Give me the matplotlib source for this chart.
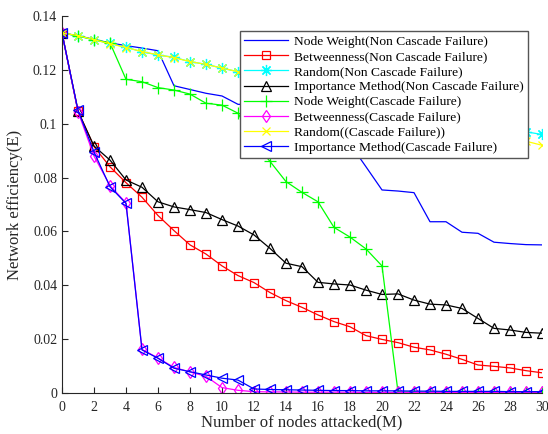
import matplotlib
matplotlib.use("Agg")
import matplotlib.pyplot as plt
import numpy as np

plt.rcParams['font.family'] = ['Liberation Serif', 'DejaVu Serif']

M = list(range(0, 31))

nw_non = [0.1337, 0.1327, 0.1313, 0.1300, 0.1290, 0.1281, 0.1271, 0.1141, 0.1127, 0.1113,
          0.1103, 0.1072, 0.1072, 0.1060, 0.1045, 0.1020, 0.1000, 0.0975, 0.0925, 0.0840,
          0.0754, 0.0750, 0.0744, 0.0636, 0.0636, 0.0597, 0.0593, 0.0560, 0.0555, 0.0551, 0.0550]
btw_non = [0.1337, 0.1048, 0.0915, 0.0840, 0.0781, 0.0727, 0.0659, 0.0603, 0.0550, 0.0516,
           0.0472, 0.0436, 0.0410, 0.0373, 0.0343, 0.0318, 0.0290, 0.0265, 0.0246, 0.0213,
           0.0199, 0.0187, 0.0170, 0.0160, 0.0144, 0.0125, 0.0104, 0.0099, 0.0093, 0.0083, 0.0075]
rnd_non = [0.1337, 0.1326, 0.1311, 0.1298, 0.1284, 0.1267, 0.1255, 0.1247, 0.1230, 0.1221,
           0.1206, 0.1193, 0.1181, 0.1168, 0.1154, 0.1143, 0.1131, 0.1117, 0.1106, 0.1092,
           0.1081, 0.1068, 0.1056, 0.1042, 0.1031, 0.1018, 0.1004, 0.0993, 0.0981, 0.0970, 0.0960]
imp_non = [0.1337, 0.1046, 0.0917, 0.0865, 0.0791, 0.0764, 0.0710, 0.0691, 0.0681, 0.0670,
           0.0644, 0.0620, 0.0587, 0.0537, 0.0482, 0.0469, 0.0411, 0.0405, 0.0401, 0.0382,
           0.0366, 0.0368, 0.0345, 0.0330, 0.0327, 0.0314, 0.0277, 0.0240, 0.0234, 0.0225, 0.0222]
nw_cas = [0.1337, 0.1326, 0.1312, 0.1300, 0.1165, 0.1156, 0.1134, 0.1125, 0.1110, 0.1076,
          0.1069, 0.1039, 0.0932, 0.0860, 0.0785, 0.0745, 0.0710, 0.0615, 0.0579, 0.0535,
          0.0472, 0.0004, 0.0004, 0.0004, 0.0003, 0.0003, 0.0003, 0.0003, 0.0003, 0.0003, 0.0003]
btw_cas = [0.1337, 0.1045, 0.0880, 0.0770, 0.0706, 0.0162, 0.0130, 0.0095, 0.0078, 0.0062,
           0.0020, 0.0010, 0.0005, 0.0004, 0.0004, 0.0003, 0.0003, 0.0003, 0.0003, 0.0002,
           0.0002, 0.0002, 0.0002, 0.0002, 0.0002, 0.0002, 0.0002, 0.0002, 0.0002, 0.0002, 0.0002]
rnd_cas = [0.1337, 0.1327, 0.1312, 0.1297, 0.1283, 0.1268, 0.1256, 0.1245, 0.1231, 0.1220,
           0.1207, 0.1193, 0.1180, 0.1166, 0.1152, 0.1140, 0.1126, 0.1112, 0.1099, 0.1085,
           0.1071, 0.1057, 0.1043, 0.1029, 0.1014, 0.1000, 0.0985, 0.0970, 0.0955, 0.0935, 0.0920]
imp_cas = [0.1337, 0.1050, 0.0895, 0.0766, 0.0704, 0.0160, 0.0129, 0.0092, 0.0079, 0.0067,
           0.0055, 0.0048, 0.0015, 0.0013, 0.0012, 0.0011, 0.0010, 0.0009, 0.0009, 0.0008,
           0.0008, 0.0008, 0.0007, 0.0007, 0.0006, 0.0006, 0.0006, 0.0006, 0.0005, 0.0005, 0.0005]

labels = ['Node Weight(Non Cascade Failure)', 'Betweenness(Non Cascade Failure)',
          'Random(Non Cascade Failure)', 'Importance Method(Non Cascade Failure)',
          'Node Weight(Cascade Failure)', 'Betweenness(Cascade Failure)',
          'Random((Cascade Failure))', 'Importance Method(Cascade Failure)']

xticks = list(range(0, 31, 2))
yticks = [0, 0.02, 0.04, 0.06, 0.08, 0.1, 0.12, 0.14]
yticklabels = ['0', '0.02', '0.04', '0.06', '0.08', '0.1', '0.12', '0.14']

fig = plt.figure(figsize=(5.48, 4.34), dpi=100)
ax = fig.add_axes([62/548, 41/434, 480/548, 377/434])

series = [nw_non, btw_non, rnd_non, imp_non, nw_cas, btw_cas, rnd_cas, imp_cas]
styles = [
    dict(color=(0, 0, 1), marker=None),
    dict(color=(1, 0, 0), marker='s', ms=6),
    dict(color=(0, 1, 1), marker=(8, 2, 0), ms=8),
    dict(color=(0, 0, 0), marker='^', ms=7),
    dict(color=(0, 1, 0), marker='+', ms=8),
    dict(color=(1, 0, 1), marker='d', ms=6),
    dict(color=(1, 1, 0), marker='x', ms=6),
    dict(color=(0, 0, 1), marker='<', ms=7),
]
for ys, st, lab in zip(series, styles, labels):
    kw = dict(color=st['color'], lw=0.9, label=lab)
    if st['marker'] is not None:
        kw.update(marker=st['marker'], ms=st['ms'], mfc='none', mec=st['color'], mew=0.9)
    ax.plot(M, ys, **kw)

ax.set_xlim(0, 30)
ax.set_ylim(0, 0.14)
ax.set_xticks(xticks)
ax.set_yticks(yticks)
ax.set_yticklabels(yticklabels)
ax.tick_params(direction='in', length=4, width=0.8, labelsize=10, colors='#262626')
ax.tick_params(axis='x', pad=6)
for lab in ax.get_xticklabels() + ax.get_yticklabels():
    lab.set_color('#262626')
ax.spines['top'].set_visible(False)
ax.spines['right'].set_visible(False)
ax.spines['left'].set_color('#262626')
ax.spines['bottom'].set_color('#262626')
ax.set_xlabel('Number of nodes attacked(M)', fontsize=12, color='#262626')
ax.set_ylabel('Network efficiency(E)', fontsize=12, color='#262626')
ax.xaxis.set_label_coords(0.5, -0.056)
ax.yaxis.set_label_coords(-0.081, 0.5)

leg = ax.legend(loc='upper right', bbox_to_anchor=(0.971, 0.961), borderaxespad=0,
                fontsize=9.7, numpoints=1, handlelength=3.2, handletextpad=0.45,
                labelspacing=0.2, borderpad=0.35, fancybox=False, framealpha=1)
leg.get_frame().set_edgecolor('#555555')
leg.get_frame().set_linewidth(1.0)

fig.savefig('out.png', dpi=100)
